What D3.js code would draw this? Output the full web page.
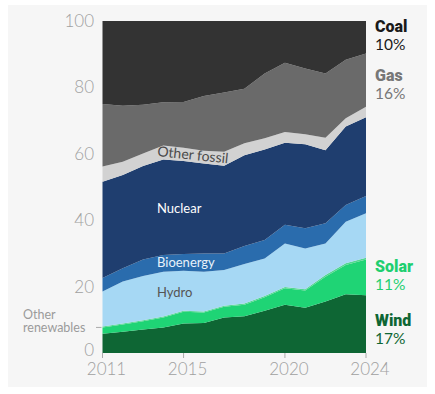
<!DOCTYPE html>
<html lang="en">
<head>
<meta charset="utf-8">
<title>EU electricity mix 2011-2024</title>
<script src="https://cdn.jsdelivr.net/npm/d3@7"></script>
<style>
  body { margin: 0; background: #fff; }
  text { font-family: Lato, "Open Sans", sans-serif; }
</style>
</head>
<body>
<script>
// share of generation, %
var years = [2011, 2012, 2013, 2014, 2015, 2016, 2017, 2018, 2019, 2020, 2021, 2022, 2023, 2024];
var wind      = [5.8, 6.4, 7.1, 7.7, 8.9, 9.0, 10.7, 11.1, 12.7, 14.5, 13.6, 15.5, 17.7, 17.4];
var solar     = [1.9, 2.2, 2.5, 3.0, 3.5, 3.2, 3.2, 3.4, 4.1, 5.0, 5.2, 7.5, 8.8, 10.8];
var otherRen  = [0.3, 0.3, 0.3, 0.3, 0.3, 0.3, 0.3, 0.4, 0.4, 0.4, 0.4, 0.5, 0.5, 0.5];
var hydro     = [10.5, 12.6, 13.3, 13.5, 12.1, 12.0, 10.8, 11.9, 11.3, 13.1, 12.3, 9.5, 12.5, 13.4];
var bioenergy = [4.1, 4.0, 5.0, 5.0, 5.0, 5.5, 5.0, 5.4, 5.5, 5.6, 6.1, 6.1, 5.1, 5.2];
var nuclear   = [29.0, 28.1, 28.1, 28.8, 28.0, 27.1, 26.4, 27.4, 27.3, 24.7, 25.3, 22.0, 23.6, 23.7];
var otherFoss = [4.6, 4.0, 3.8, 4.2, 4.0, 3.8, 4.2, 3.6, 3.4, 3.3, 3.0, 3.7, 2.5, 3.2];
var gas       = [18.8, 16.9, 14.7, 13.0, 13.8, 16.5, 17.9, 16.4, 19.5, 20.8, 19.8, 19.4, 17.6, 16.0];
var coal      = [25.0, 25.5, 25.2, 24.5, 24.4, 22.6, 21.5, 20.4, 15.8, 12.6, 14.3, 15.8, 11.7, 9.8];

var keys = ["Wind", "Solar", "Other renewables", "Hydro", "Bioenergy", "Nuclear", "Other fossil", "Gas", "Coal"];
var series = [wind, solar, otherRen, hydro, bioenergy, nuclear, otherFoss, gas, coal];
var colors = ["#0e6634", "#1fd475", "#52d88f", "#a6d8f4", "#2a6cad", "#1f3e6f", "#d2d2d2", "#6a6a6a", "#333333"];

var yTicks = [0, 20, 40, 60, 80, 100];
var xTicks = [2011, 2015, 2020, 2024];

var w = 435, h = 394;

var rows = years.map(function(yr, i) {
  var r = { year: yr };
  keys.forEach(function(k, j) { r[k] = series[j][i]; });
  return r;
});

var x = d3.scaleLinear().domain([2011, 2024]).range([102.5, 366]);
var y = d3.scaleLinear().domain([0, 100]).range([353, 21]);

var svg = d3.select("body").append("svg")
  .attr("width", w)
  .attr("height", h);

// grey panel
svg.append("rect")
  .attr("x", 8).attr("y", 5)
  .attr("width", 419).attr("height", 382)
  .attr("fill", "#f6f6f6");

var stack = d3.stack().keys(keys);
var layers = stack(rows);

var area = d3.area()
  .x(function(d) { return x(d.data.year); })
  .y0(function(d) { return y(d[0]); })
  .y1(function(d) { return y(d[1]); });

svg.selectAll("path.layer")
  .data(layers)
  .enter()
  .append("path")
  .attr("class", "layer")
  .attr("d", area)
  .attr("fill", function(d, i) { return colors[i]; });

// y axis labels
svg.selectAll("text.ylab")
  .data(yTicks)
  .enter()
  .append("text")
  .attr("class", "ylab")
  .attr("x", 94)
  .attr("y", function(d) { return y(d); })
  .attr("dy", function(d) { return d === 0 ? "0.2em" : "0.35em"; })
  .attr("text-anchor", "end")
  .attr("fill", "#a0a0a0")
  .style("font-size", "17px")
  .style("font-weight", 300)
  .text(function(d) { return d; });

// x ticks + labels
svg.selectAll("line.xtick")
  .data(xTicks)
  .enter()
  .append("line")
  .attr("class", "xtick")
  .attr("x1", function(d) { return x(d); })
  .attr("x2", function(d) { return x(d); })
  .attr("y1", y(0))
  .attr("y2", y(0) + 5)
  .attr("stroke", "#aaa")
  .attr("stroke-width", 1);

svg.selectAll("text.xlab")
  .data(xTicks)
  .enter()
  .append("text")
  .attr("class", "xlab")
  .attr("x", function(d) { return x(d) + 4; })
  .attr("y", 375)
  .attr("text-anchor", "middle")
  .attr("fill", "#a0a0a0")
  .style("font-size", "17px")
  .style("font-weight", 300)
  .text(function(d) { return d; });

// other renewables pointer
var orY = y(wind[0] + solar[0]);
svg.append("line")
  .attr("x1", 96).attr("x2", x(2011) - 1)
  .attr("y1", orY).attr("y2", orY)
  .attr("stroke", "#aaa");
svg.append("text")
  .attr("x", 23).attr("y", 318.5)
  .attr("fill", "#9b9b9b")
  .style("font-size", "12.5px")
  .text("Other");
svg.append("text")
  .attr("x", 23).attr("y", 332)
  .attr("fill", "#9b9b9b")
  .style("font-size", "12.5px")
  .text("renewables");

// in-chart labels
svg.append("text")
  .attr("transform", "translate(157,156) rotate(6)")
  .attr("fill", "#4a4a4a")
  .style("font-size", "14px")
  .text("Other fossil");

svg.append("text")
  .attr("x", 157).attr("y", 213)
  .attr("fill", "#fff")
  .style("font-size", "13px")
  .text("Nuclear");

svg.append("text")
  .attr("x", 157).attr("y", 267)
  .attr("fill", "#e8f2fb")
  .style("font-size", "13px")
  .text("Bioenergy");

svg.append("text")
  .attr("x", 157).attr("y", 297)
  .attr("fill", "#555")
  .style("font-size", "13px")
  .text("Hydro");

// right-hand labels
var rightLabels = [
  { name: "Coal", pct: "10%", y: 32, color: "#1a1a1a" },
  { name: "Gas", pct: "16%", y: 81, color: "#777777" },
  { name: "Solar", pct: "11%", y: 272, color: "#1fcf70" },
  { name: "Wind", pct: "17%", y: 326, color: "#0e6634" }
];

rightLabels.forEach(function(d) {
  svg.append("text")
    .attr("x", 375).attr("y", d.y)
    .attr("fill", d.color)
    .style("font-family", "Roboto, sans-serif")
    .style("font-size", "16px")
    .style("font-weight", 900)
    .text(d.name);
  svg.append("text")
    .attr("x", 375).attr("y", d.y + 17.5)
    .attr("fill", d.color)
    .style("font-size", "15.5px")
    .text(d.pct);
});
</script>
</body>
</html>
